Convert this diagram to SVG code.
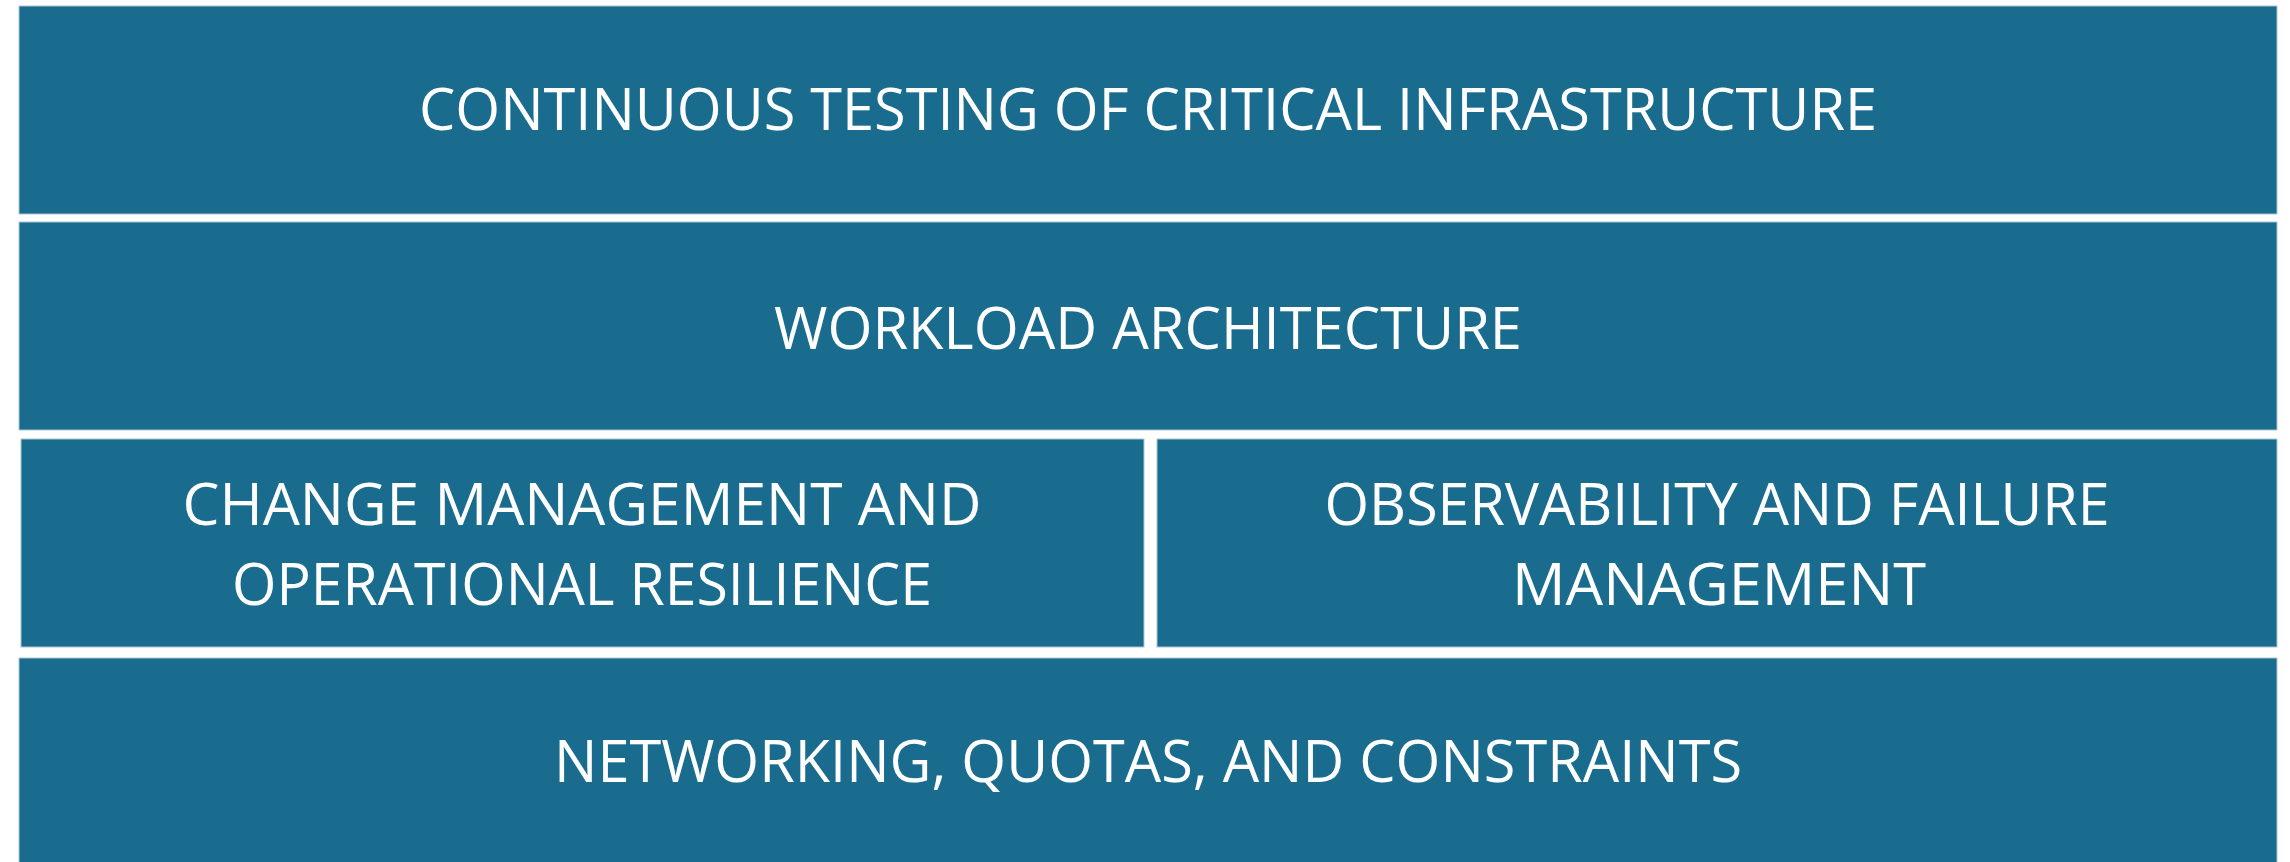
<svg xmlns="http://www.w3.org/2000/svg" width="2290" height="862" viewBox="0 0 2290 862">
<style>
.box{fill:#1a6c8e;stroke:#a9c6d3;stroke-width:1}
.lbl{font-family:"Open Sans","Noto Sans","Liberation Sans",sans-serif;font-size:59px;fill:#ffffff;text-anchor:middle}
</style>
<rect width="2290" height="862" fill="#ffffff"/>
<g id="connectors"></g>
<g id="continuous-testing">
<rect class="box" x="19" y="6" width="2258" height="208"/>
<text class="lbl" x="1148" y="130" textLength="1458" lengthAdjust="spacingAndGlyphs">CONTINUOUS TESTING OF CRITICAL INFRASTRUCTURE</text>
</g>
<g id="workload-architecture">
<rect class="box" x="19" y="222" width="2258" height="208"/>
<text class="lbl" x="1148" y="349" textLength="748" lengthAdjust="spacingAndGlyphs">WORKLOAD ARCHITECTURE</text>
</g>
<g id="change-management">
<rect class="box" x="21" y="439" width="1123" height="208"/>
<text class="lbl" x="582" y="525" textLength="799" lengthAdjust="spacingAndGlyphs">CHANGE MANAGEMENT AND</text>
<text class="lbl" x="582" y="605" textLength="700" lengthAdjust="spacingAndGlyphs">OPERATIONAL RESILIENCE</text>
</g>
<g id="observability">
<rect class="box" x="1157" y="439" width="1120" height="208"/>
<text class="lbl" x="1717" y="525" textLength="785" lengthAdjust="spacingAndGlyphs">OBSERVABILITY AND FAILURE</text>
<text class="lbl" x="1719" y="605" textLength="414" lengthAdjust="spacingAndGlyphs">MANAGEMENT</text>
</g>
<g id="networking">
<rect class="box" x="19" y="658" width="2258" height="210"/>
<text class="lbl" x="1148" y="782" textLength="1188" lengthAdjust="spacingAndGlyphs">NETWORKING, QUOTAS, AND CONSTRAINTS</text>
</g>
</svg>
